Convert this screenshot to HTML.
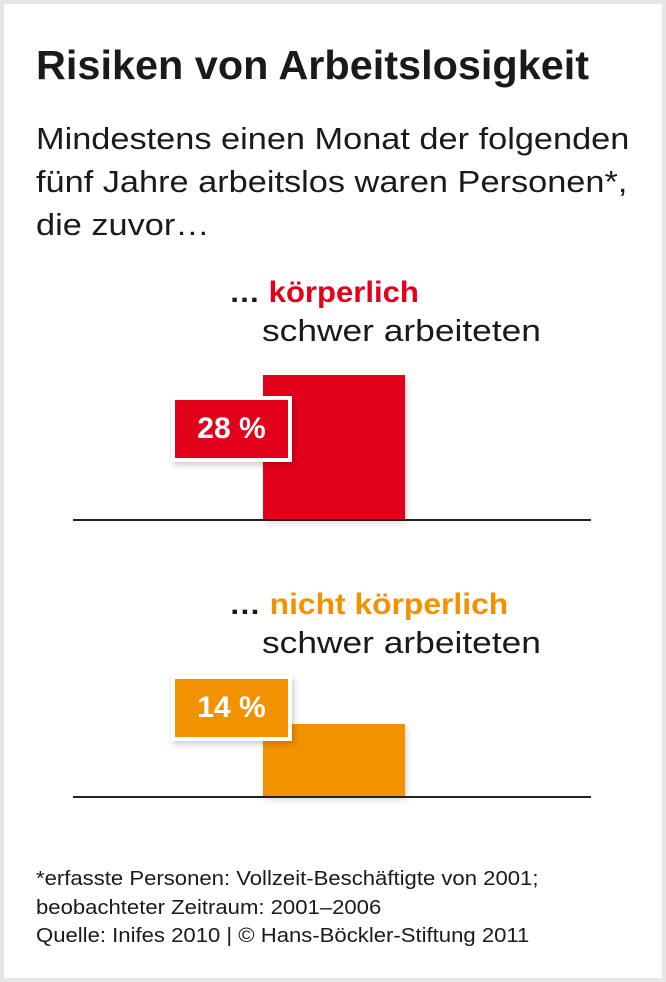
<!DOCTYPE html>
<html><head><meta charset="utf-8"><style>
body{margin:0;width:666px;height:982px;background:#e6e6e6;font-family:"Liberation Sans",sans-serif;position:relative;overflow:hidden}
.card{position:absolute;left:4px;top:4px;width:658px;height:974px;background:#fff}
.t{position:absolute;white-space:nowrap;color:#1a1a1a;transform-origin:0 0}
.bar{position:absolute;box-shadow:2px 3px 6px rgba(0,0,0,0.15)}
.lab{position:absolute;border:4px solid #fff;color:#fff;font-weight:bold;font-size:30px;text-align:center;box-shadow:2px 3px 6px rgba(0,0,0,0.2);box-sizing:border-box}
.ax{position:absolute;left:73px;width:518px;height:2px;background:#222}
</style></head><body><div class="card"></div>
<div class="t" style="left:36px;top:42px;font-size:41px;font-weight:bold;transform:scaleX(1.01)">Risiken von Arbeitslosigkeit</div>
<div class="t" style="left:36px;top:117px;font-size:31px;line-height:43px;transform:scaleX(1.107)">Mindestens einen Monat der folgenden<br>fünf Jahre arbeitslos waren Personen*,<br>die zuvor…</div>
<div class="t" style="left:229px;top:276px;font-size:30px;font-weight:bold;transform:scaleX(1.035)"><span>…</span> <span style="color:#e2001a">körperlich</span></div>
<div class="t" style="left:262px;top:313px;font-size:31px;transform:scaleX(1.14)">schwer arbeiteten</div>
<div class="bar" style="left:263px;top:375px;width:142px;height:145px;background:#e2001a"></div>
<div class="lab" style="left:171px;top:396px;width:121px;height:66px;background:#e2001a;line-height:58px">28 %</div>
<div class="ax" style="top:519px"></div>
<div class="t" style="left:229px;top:588px;font-size:30px;font-weight:bold;transform:scaleX(1.06)"><span>…</span> <span style="color:#f39200">nicht körperlich</span></div>
<div class="t" style="left:262px;top:625px;font-size:31px;transform:scaleX(1.14)">schwer arbeiteten</div>
<div class="bar" style="left:263px;top:724px;width:142px;height:73px;background:#f39200"></div>
<div class="lab" style="left:171px;top:675px;width:121px;height:66px;background:#f39200;line-height:58px">14 %</div>
<div class="ax" style="top:796px"></div>
<div class="t" style="left:36px;top:865px;font-size:20px;line-height:28.5px;transform:scaleX(1.105)">*erfasste Personen: Vollzeit-Beschäftigte von 2001;<br>beobachteter Zeitraum: 2001–2006<br>Quelle: Inifes 2010 | © Hans-Böckler-Stiftung 2011</div>
</body></html>
